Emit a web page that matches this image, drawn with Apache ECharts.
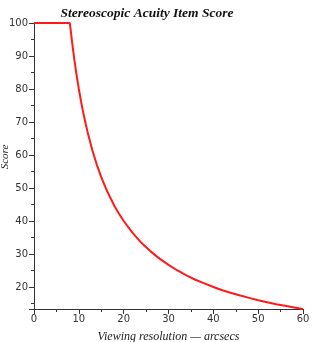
<!DOCTYPE html>
<html><head><meta charset="utf-8">
<script src="https://cdn.jsdelivr.net/npm/echarts@6/dist/echarts.min.js"></script>
<style>html,body{margin:0;padding:0;background:#fff}#c{width:314px;height:342px}</style>
</head><body><div id="c"></div>
<script>
var xValues = [0, 2, 4, 6, 8, 8.5, 9, 9.5, 10, 10.5, 11, 11.5, 12, 13, 14, 15, 16, 17, 18, 19, 20, 22, 24, 26, 28, 30, 32, 34, 36, 38, 40, 42, 44, 46, 48, 50, 52, 54, 56, 58, 60];
var scores  = [100, 100, 100, 100, 100, 94.1, 88.9, 84.2, 80, 76.2, 72.7, 69.6, 66.7, 61.5, 57.1, 53.3, 50, 47.1, 44.4, 42.1, 40, 36.4, 33.3, 30.8, 28.6, 26.7, 25, 23.5, 22.2, 21.1, 20, 19.0, 18.2, 17.4, 16.7, 16, 15.4, 14.8, 14.3, 13.8, 13.3];
var titleText = 'Stereoscopic Acuity Item Score';
var xName = 'Viewing resolution \u2014 arcsecs';
var yName = 'Score';

var pts = xValues.map(function (x, i) { return [x, scores[i]]; });
var serif = '"Liberation Serif","DejaVu Serif",serif';
var sans = '"DejaVu Sans","Liberation Sans",sans-serif';
var chart = echarts.init(document.getElementById('c'), null, {renderer: 'canvas'});
chart.setOption({
  animation: false,
  backgroundColor: '#fff',
  title: {
    text: titleText, left: 142, top: 2, textAlign: 'center',
    textStyle: {fontFamily: serif, fontStyle: 'italic', fontWeight: 'bold', fontSize: 13.5, color: '#111'}
  },
  grid: {left: 34, right: 11, top: 23, bottom: 33, containLabel: false, outerBoundsMode: 'none'},
  xAxis: {
    type: 'value', min: 0, max: 60, interval: 10,
    name: xName, nameLocation: 'middle', nameGap: 22, nameMoveOverlap: false,
    nameTextStyle: {fontFamily: serif, fontStyle: 'italic', fontSize: 12, color: '#222'},
    axisLine: {show: true, lineStyle: {color: '#333', width: 1}},
    axisTick: {show: true, length: 5, lineStyle: {color: '#333'}},
    minorTick: {show: true, splitNumber: 2, length: 3, lineStyle: {color: '#333'}},
    axisLabel: {fontFamily: sans, fontSize: 10, color: '#333', margin: 5},
    splitLine: {show: false}
  },
  yAxis: {
    type: 'value', min: 13.33, max: 100, splitNumber: 8,
    name: yName, nameLocation: 'middle', nameGap: 23, nameRotate: 90, nameMoveOverlap: false,
    nameTextStyle: {fontFamily: serif, fontStyle: 'italic', fontSize: 11, color: '#222', padding: [0, 0, 0, 18]},
    axisLine: {show: true, lineStyle: {color: '#333', width: 1}},
    axisTick: {show: true, length: 5, lineStyle: {color: '#333'}},
    minorTick: {show: true, splitNumber: 2, length: 3, lineStyle: {color: '#333'}},
    axisLabel: {fontFamily: sans, fontSize: 10, color: '#333', margin: 6, showMinLabel: false},
    splitLine: {show: false}
  },
  series: [{
    type: 'line', data: pts, smooth: false, showSymbol: false,
    lineStyle: {color: '#ff1a1a', width: 2}
  }]
});
</script></body></html>
